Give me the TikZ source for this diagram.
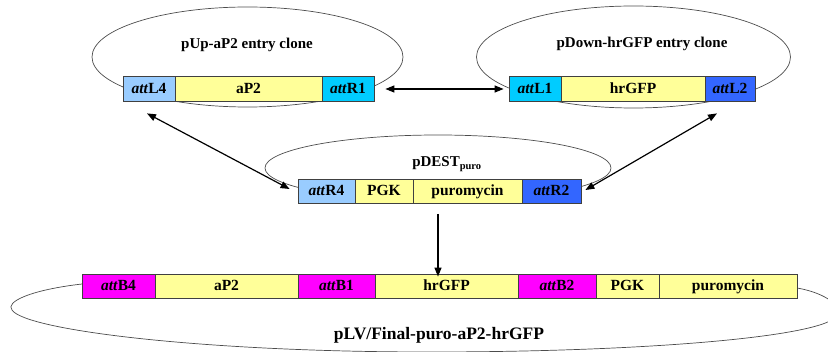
\documentclass[tikz,border=0pt]{standalone}
\usepackage{fontspec}
\setmainfont{Liberation Serif}
\usetikzlibrary{arrows.meta}
\definecolor{attlight}{HTML}{99CCFF}
\definecolor{attcyan}{HTML}{00CCFF}
\definecolor{attblue}{HTML}{3366FF}
\definecolor{attmag}{HTML}{FF00FF}
\definecolor{geneyel}{HTML}{FFFF99}
\definecolor{edgegray}{HTML}{404040}
\newcommand{\att}[1]{\textit{att}#1}
\tikzset{
  seg/.style={draw=edgegray, line width=0.8pt, rectangle, inner sep=0pt,
    text height=10.6pt, text depth=1pt,
    font=\fontsize{15.5}{18}\selectfont\bfseries, text=black},
  plasmid/.style={draw=black!70, line width=0.7pt},
  title/.style={font=\fontsize{15}{18}\selectfont\bfseries, inner sep=0pt, anchor=base},
  arr/.style={draw=black, line width=1.2pt, {Triangle[length=9pt,width=7pt]}-{Triangle[length=9pt,width=7pt]}},
  arrone/.style={draw=black, line width=1.2pt, -{Triangle[length=9pt,width=7pt]}},
}
\begin{document}
\begin{tikzpicture}[x=1pt, y=-1pt]
\useasboundingbox (0,0) rectangle (828,352);

% plasmid backbones
\draw[plasmid] (247.5,57) ellipse [x radius=155.5, y radius=50];
\draw[plasmid] (633.5,57) ellipse [x radius=157, y radius=51];
\draw[plasmid] (438,168) ellipse [x radius=173, y radius=33];
\draw[plasmid] (82,284) .. controls (30,290) and (5,302) .. (12,310)
  .. controls (25,330) and (200,352) .. (430,352)
  .. controls (650,352) and (838,336) .. (838,313)
  .. controls (838,300) and (815,291) .. (797,288);

% plasmid names
\node[title] (tUp) at (247,48.5) {pUp-aP2 entry clone};
\node[title] (tDown) at (642,48) {pDown-hrGFP entry clone};
\node[title] (tDest) at (447,167) {pDEST\textsubscript{puro}};
\node[title, font=\fontsize{17.5}{20}\selectfont\bfseries] (tFinal) at (439,340) {pLV/Final-puro-aP2-hrGFP};

% pUp-aP2 entry clone
\node[seg, fill=attlight, minimum width=52pt, minimum height=25pt] (L4) at (149,88.5) {\att{L4}};
\node[seg, fill=geneyel, minimum width=147pt, minimum height=25pt] (aP2a) at (248.5,88.5) {aP2};
\node[seg, fill=attcyan, minimum width=52pt, minimum height=25pt] (R1) at (348,88.5) {\att{R1}};

% pDown-hrGFP entry clone
\node[seg, fill=attcyan, minimum width=52pt, minimum height=25pt] (L1) at (535,88.5) {\att{L1}};
\node[seg, fill=geneyel, minimum width=144pt, minimum height=25pt] (GFPa) at (633,88.5) {hrGFP};
\node[seg, fill=attblue, minimum width=50pt, minimum height=25pt] (L2) at (730,88.5) {\att{L2}};

% pDEST puro
\node[seg, fill=attlight, minimum width=57pt, minimum height=24pt] (R4) at (326.5,191) {\att{R4}};
\node[seg, fill=geneyel, minimum width=58pt, minimum height=24pt] (PGKa) at (384,191) {PGK};
\node[seg, fill=geneyel, minimum width=109pt, minimum height=24pt] (puroa) at (467.5,191) {puromycin};
\node[seg, fill=attblue, minimum width=59pt, minimum height=24pt] (R2) at (551.5,191) {\att{R2}};

% final construct
\node[seg, fill=attmag, minimum width=73pt, minimum height=24pt] (B4) at (118.5,286) {\att{B4}};
\node[seg, fill=geneyel, minimum width=143pt, minimum height=24pt] (aP2b) at (226.5,286) {aP2};
\node[seg, fill=attmag, minimum width=77pt, minimum height=24pt] (B1) at (336.5,286) {\att{B1}};
\node[seg, fill=geneyel, minimum width=143pt, minimum height=24pt] (GFPb) at (446.5,286) {hrGFP};
\node[seg, fill=attmag, minimum width=78pt, minimum height=24pt] (B2) at (557,286) {\att{B2}};
\node[seg, fill=geneyel, minimum width=63pt, minimum height=24pt] (PGKb) at (627.5,286) {PGK};
\node[seg, fill=geneyel, minimum width=138pt, minimum height=24pt] (purob) at (728,286) {puromycin};

% recombination arrows
\draw[arr] ([shift={(11,0.5)}]R1.east) -- ([shift={(-5,0.5)}]L1.west);
\draw[arr] ([shift={(-2,12)}]L4.south) -- ([shift={(-8,-2)}]R4.west);
\draw[arr] ([shift={(-13,12)}]L2.south) -- ([shift={(4,-1)}]R2.east);
\coordinate (down) at (438,214);
\draw[arrone] (down) -- ([yshift=-3]down |- GFPb.north);
\end{tikzpicture}
\end{document}
